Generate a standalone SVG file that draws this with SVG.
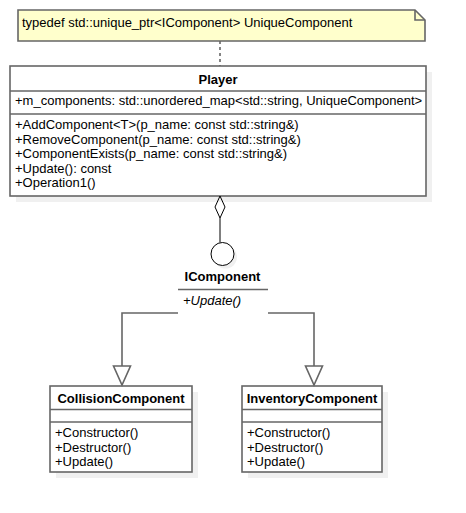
<svg xmlns="http://www.w3.org/2000/svg" width="466" height="513" viewBox="0 0 466 513">
<style>
  text { font-family: "Liberation Sans", Arial, sans-serif; font-size: 13px; fill: #000; }
  .b { font-weight: bold; }
  .c { text-anchor: middle; }
  .i { font-style: italic; }
  .box { fill: #fff; stroke: #666; stroke-width: 1.6; }
  .sep { stroke: #666; stroke-width: 1.6; fill: none; }
  .shadow { fill: #f0f0f0; stroke: none; }
  .edge { stroke: #666; stroke-width: 1.6; fill: none; }
  .thin { stroke: #000; stroke-width: 1; fill: none; }
</style>
<rect width="466" height="513" fill="#fff"/>

<g id="note">
  <path d="M18,10 H415 L425,20 V41 H18 Z" fill="#ffffcc" stroke="#666" stroke-width="1.6"/>
  <path d="M415,10 V20 H425" fill="none" stroke="#666" stroke-width="1.6"/>
  <text x="22" y="27">typedef std::unique_ptr&lt;IComponent&gt; UniqueComponent</text>
</g>

<g id="player">
  <rect class="shadow" x="16" y="72" width="416" height="130"/>
  <rect class="box" x="10" y="66" width="416" height="130"/>
  <line class="sep" x1="10" y1="91" x2="426" y2="91"/>
  <line class="sep" x1="10" y1="114" x2="426" y2="114"/>
  <text class="b c" x="218" y="84">Player</text>
  <text x="15" y="105">+m_components: std::unordered_map&lt;std::string, UniqueComponent&gt;</text>
  <text x="15" y="129">+AddComponent&lt;T&gt;(p_name: const std::string&amp;)</text>
  <text x="15" y="143.6">+RemoveComponent(p_name: const std::string&amp;)</text>
  <text x="15" y="158.2">+ComponentExists(p_name: const std::string&amp;)</text>
  <text x="15" y="172.8">+Update(): const</text>
  <text x="15" y="187.4">+Operation1()</text>
</g>

<g id="icomponent">
  <circle class="shadow" cx="225.5" cy="257" r="11.5"/>
  <circle cx="222.5" cy="254" r="11.5" fill="#fff" stroke="#000" stroke-width="1"/>
  <text class="b c" x="222.5" y="281">IComponent</text>
  <line class="sep" x1="178" y1="289.5" x2="268" y2="289.5"/>
  <text class="i" x="183" y="305">+Update()</text>
</g>

<g id="collision">
  <rect class="shadow" x="56" y="392" width="142" height="86"/>
  <rect class="box" x="50" y="386" width="142" height="86"/>
  <line class="sep" x1="50" y1="409.5" x2="192" y2="409.5"/>
  <line class="sep" x1="50" y1="422" x2="192" y2="422"/>
  <text class="b c" x="121" y="403">CollisionComponent</text>
  <text x="55" y="437">+Constructor()</text>
  <text x="55" y="451.5">+Destructor()</text>
  <text x="55" y="466">+Update()</text>
</g>

<g id="inventory">
  <rect class="shadow" x="248" y="392" width="140" height="86"/>
  <rect class="box" x="242" y="386" width="140" height="86"/>
  <line class="sep" x1="242" y1="409.5" x2="382" y2="409.5"/>
  <line class="sep" x1="242" y1="422" x2="382" y2="422"/>
  <text class="b c" x="312" y="403">InventoryComponent</text>
  <text x="247" y="437">+Constructor()</text>
  <text x="247" y="451.5">+Destructor()</text>
  <text x="247" y="466">+Update()</text>
</g>

<g id="connectors">
  <line x1="220" y1="41" x2="220" y2="66" stroke="#666" stroke-width="1.6" stroke-dasharray="3 3"/>
  <path class="thin" d="M220,196 L225,207 L220,218 L215,207 Z" fill="#fff"/>
  <line class="thin" x1="220" y1="218" x2="220" y2="242.5"/>
  <path class="edge" d="M178,313 H122 V366"/>
  <path class="edge" d="M113.5,366 H130.5 L122,385 Z" fill="#fff"/>
  <path class="edge" d="M268,313 H314 V366"/>
  <path class="edge" d="M305.5,366 H322.5 L314,385 Z" fill="#fff"/>
</g>
</svg>
